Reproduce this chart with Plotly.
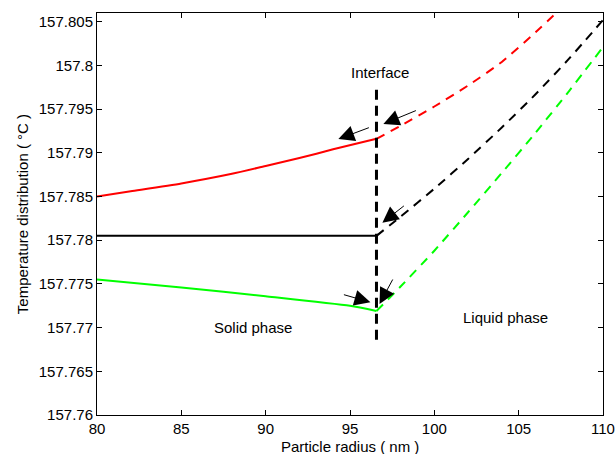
import plotly.graph_objects as go

# ---- data ----
x_interface = 96.57

red_solid_x = [80, 82, 85, 88, 90, 92, 94, 96.57]
red_solid_y = [157.7850, 157.7856, 157.7865, 157.7876, 157.7885, 157.7894, 157.7904, 157.7916]
red_dash_x = [96.57, 98, 100, 102, 104, 106, 108]
red_dash_y = [157.7916, 157.7931, 157.7953, 157.7977, 157.8004, 157.8038, 157.8074]

black_solid_x = [80, 85, 90, 95, 96.57]
black_solid_y = [157.7805, 157.7805, 157.7805, 157.7805, 157.7805]
black_dash_x = [96.57, 98, 100, 102, 104, 106, 108, 110]
black_dash_y = [157.7805, 157.7827, 157.7859, 157.7893, 157.7929, 157.7967, 157.8008, 157.8052]

green_solid_x = [80, 85, 90, 95, 96.57]
green_solid_y = [157.7755, 157.7746, 157.7736, 157.7725, 157.7719]
green_dash_x = [96.57, 98, 100, 102, 104, 106, 108, 110]
green_dash_y = [157.7719, 157.7747, 157.7788, 157.7832, 157.7877, 157.7923, 157.7971, 157.8021]

interface_y = [157.7686, 157.7978]

x_ticks = [80, 85, 90, 95, 100, 105, 110]
y_ticks = [157.76, 157.765, 157.77, 157.775, 157.78, 157.785, 157.79, 157.795, 157.8, 157.805]
y_ticktext = ["157.76", "157.765", "157.77", "157.775", "157.78", "157.785", "157.79", "157.795", "157.8", "157.805"]

x_title = "Particle radius ( nm )"
y_title = "Temperature distribution ( °C )"

# arrows: head (x, y) in data, tail offset (ax, ay) in px
arrows = [
    (96.98, 157.7933, 34, -14),
    (94.31, 157.79157, 32, -12),
    (96.92, 157.7820, 23, -18),
    (96.75, 157.7727, 14, -26),
    (96.21, 157.7729, -28, -8),
]

labels = [
    ("Interface", 96.8, 157.7992),
    ("Solid phase", 89.26, 157.7700),
    ("Liquid phase", 104.22, 157.7712),
]

FONT = "Liberation Sans, Arial, sans-serif"

fig = go.Figure()
fig.add_trace(go.Scatter(x=red_solid_x, y=red_solid_y, mode="lines", line=dict(color="#ff0000", width=2, shape="spline", smoothing=0.6)))
fig.add_trace(go.Scatter(x=red_dash_x, y=red_dash_y, mode="lines", line=dict(color="#ff0000", width=2, dash="9px,7px", shape="spline", smoothing=0.6)))
fig.add_trace(go.Scatter(x=black_solid_x, y=black_solid_y, mode="lines", line=dict(color="#000000", width=2)))
fig.add_trace(go.Scatter(x=black_dash_x, y=black_dash_y, mode="lines", line=dict(color="#000000", width=2, dash="9px,7px", shape="spline", smoothing=0.6)))
fig.add_trace(go.Scatter(x=green_solid_x, y=green_solid_y, mode="lines", line=dict(color="#00ff00", width=2, shape="spline", smoothing=0.6)))
fig.add_trace(go.Scatter(x=green_dash_x, y=green_dash_y, mode="lines", line=dict(color="#00ff00", width=2, dash="9px,7px", shape="spline", smoothing=0.6)))
fig.add_trace(go.Scatter(x=[x_interface, x_interface], y=interface_y, mode="lines", line=dict(color="#000000", width=3, dash="10px,6px")))

for hx, hy, ax, ay in arrows:
    fig.add_annotation(x=hx, y=hy, ax=ax, ay=ay, text="", showarrow=True,
                       arrowhead=2, arrowsize=3.2, arrowwidth=1, arrowcolor="#000000")

for txt, tx, ty in labels:
    fig.add_annotation(x=tx, y=ty, text=txt, showarrow=False,
                       font=dict(family=FONT, size=15, color="#000000"))

# x-axis title as a paper annotation so it sits below the tick labels
fig.add_annotation(x=0.5, y=0, xref="paper", yref="paper", text=x_title, showarrow=False,
                   yanchor="middle", yshift=-31,
                   font=dict(family=FONT, size=15, color="#000000"))

axis_common = dict(showline=True, linecolor="#000000", linewidth=1, mirror="ticks",
                   ticks="inside", ticklen=5, tickcolor="#000000", showgrid=False, zeroline=False,
                   automargin=False,
                   tickfont=dict(family=FONT, size=15, color="#000000"))

fig.update_xaxes(range=[80, 110], tickvals=x_ticks, ticktext=[str(v) for v in x_ticks],
                 ticklabelstandoff=0,
                 **axis_common)
fig.update_yaxes(range=[157.76, 157.806], tickvals=y_ticks, ticktext=y_ticktext,
                 title=dict(text=y_title, font=dict(family=FONT, size=15, color="#000000"), standoff=6),
                 **axis_common)

fig.update_layout(width=616, height=454, showlegend=False,
                  margin=dict(l=97, r=13, t=13, b=39),
                  paper_bgcolor="#ffffff", plot_bgcolor="#ffffff")

fig.write_html("out.html")
